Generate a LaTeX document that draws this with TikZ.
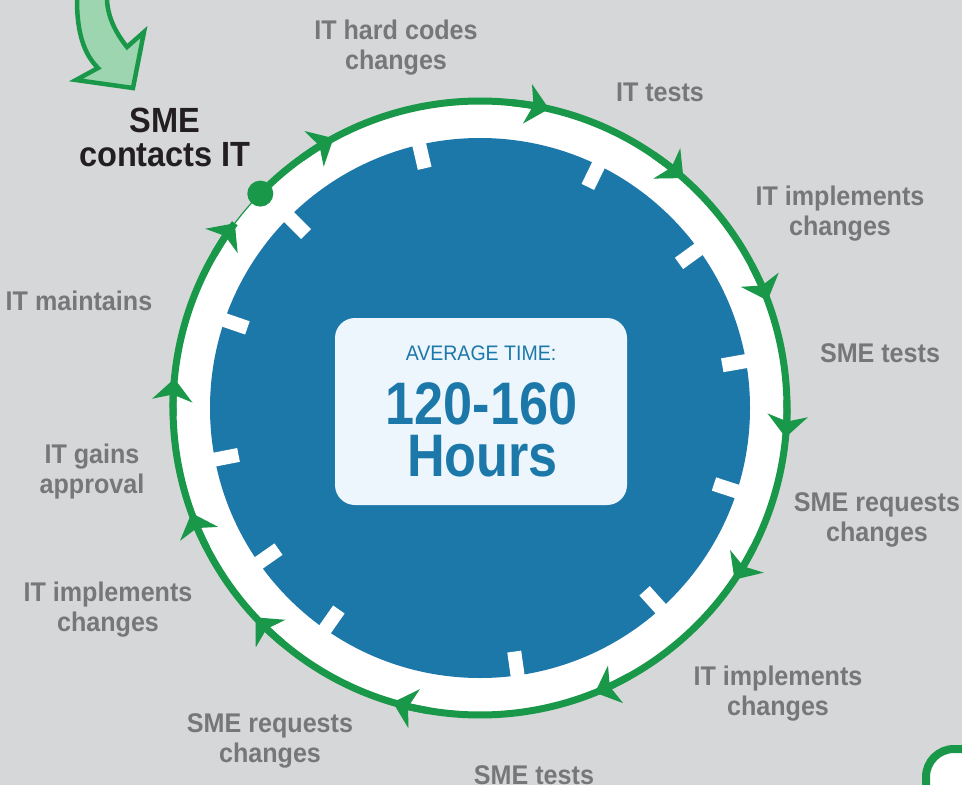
\documentclass[tikz,border=0pt]{standalone}
\usepackage{fontspec}
\setmainfont{Liberation Sans}[FakeStretch=0.93]
\newfontfamily\numfont{Liberation Sans}[FakeStretch=0.87]
\usepackage{tikz}
\usetikzlibrary{arrows.meta, calc}
\definecolor{bggray}{RGB}{214,215,217}
\definecolor{ringgreen}{RGB}{24,152,72}
\definecolor{discblue}{RGB}{29,120,170}
\definecolor{boxfill}{RGB}{236,246,252}
\definecolor{labelgray}{RGB}{118,119,121}
\definecolor{darktext}{RGB}{35,31,32}
\definecolor{arrowfill}{RGB}{157,213,176}

\begin{document}
\begin{tikzpicture}[x=1pt, y=1pt,
    steplabel/.style={text=labelgray, font=\fontsize{27}{30}\selectfont\bfseries, align=center, inner sep=0pt},
    ring/.style={ringgreen, line width=7pt},
    ringtip/.style={-{Stealth[length=22pt, width=40pt, inset=6pt]}},
    tickmark/.style={white, line width=14pt},
    bignum/.style={text=discblue, font=\numfont\fontsize{60}{53}\selectfont\bfseries, inner sep=0pt}]
      \useasboundingbox (0,-785) rectangle (962,0);
      \fill[bggray] (0,-785) rectangle (962,0);
      \draw[ringgreen, line width=4.5pt, fill=arrowfill, line join=miter] (77,8) -- (77,0) .. controls (77,-35) and (85,-55) .. (98,-68) -- (76,-80) -- (133,-88) -- (144,-32) -- (127,-47) .. controls (116,-33) and (108,-18) .. (107,0) -- (107,8) -- cycle;
      \draw[ringgreen, line width=8pt, fill=white, rounded corners=28pt] (926,-749) rectangle (1100,-900);
      \coordinate (c) at (480,-408);
      \fill[white] (c) circle[radius=307pt];
      \fill[discblue] (c) circle[radius=270pt];
      \foreach \a in {103,64,36,10,-18,-48,-82,-125,-145,-169,161,135}
        \draw[tickmark] ($(c)+(\a:246pt)$) -- ($(c)+(\a:272pt)$);
      \draw[ring] ($(c)+(135.7:307pt)$) arc[start angle=135.7, end angle=-217, radius=307pt];
      \coordinate (ringend) at ($(c)+(143:307pt)$);
      \draw[ringgreen, line width=1.2pt] (ringend) arc[start angle=143, end angle=135.7, radius=307pt];
      \foreach \a in {118.5,77,48.5,20.5,-5.5,-34,-68,-106.5,-137,-160,174.5,143}
        \draw[ring, ringtip] ($(c)+(\a+7:307pt)$) arc[start angle=\a+7, end angle=\a, radius=307pt];
      \fill[ringgreen] ($(c)+(135.7:307pt)$) coordinate (start) circle[radius=13pt];
      \node[fill=boxfill, rounded corners=20pt, minimum width=292pt, minimum height=187pt] (timebox) at (481,-411.5) {};
      \node[text=discblue, font=\fontsize{21}{24}\selectfont, inner sep=0pt] (avglabel) at (481,-353) {AVERAGE TIME:};
      \node[bignum] (hrsrange) at (481.5,-403.5) {120-160};
      \node[bignum] (hrsunit) at (482.5,-456) {Hours};
      \node[steplabel, text=darktext, font=\fontsize{35}{34}\selectfont\bfseries] (contact) at (165,-137.5) {SME\\contacts IT};
      \node[steplabel] (hardcode) at (396,-47.5) {IT hard codes\\changes};
      \node[steplabel] (ittest) at (660,-92) {IT tests};
      \node[steplabel] (implA) at (840,-214) {IT implements\\changes};
      \node[steplabel] (smetestA) at (880,-353) {SME tests};
      \node[steplabel] (smereqA) at (877,-520) {SME requests\\changes};
      \node[steplabel] (implB) at (778,-694) {IT implements\\changes};
      \node[steplabel] (smetestB) at (534,-775) {SME tests};
      \node[steplabel] (smereqB) at (270,-741) {SME requests\\changes};
      \node[steplabel] (implC) at (108,-610) {IT implements\\changes};
      \node[steplabel] (gains) at (92,-472) {IT gains\\approval};
      \node[steplabel] (maintain) at (79,-301) {IT maintains};
    \end{tikzpicture}
\end{document}
